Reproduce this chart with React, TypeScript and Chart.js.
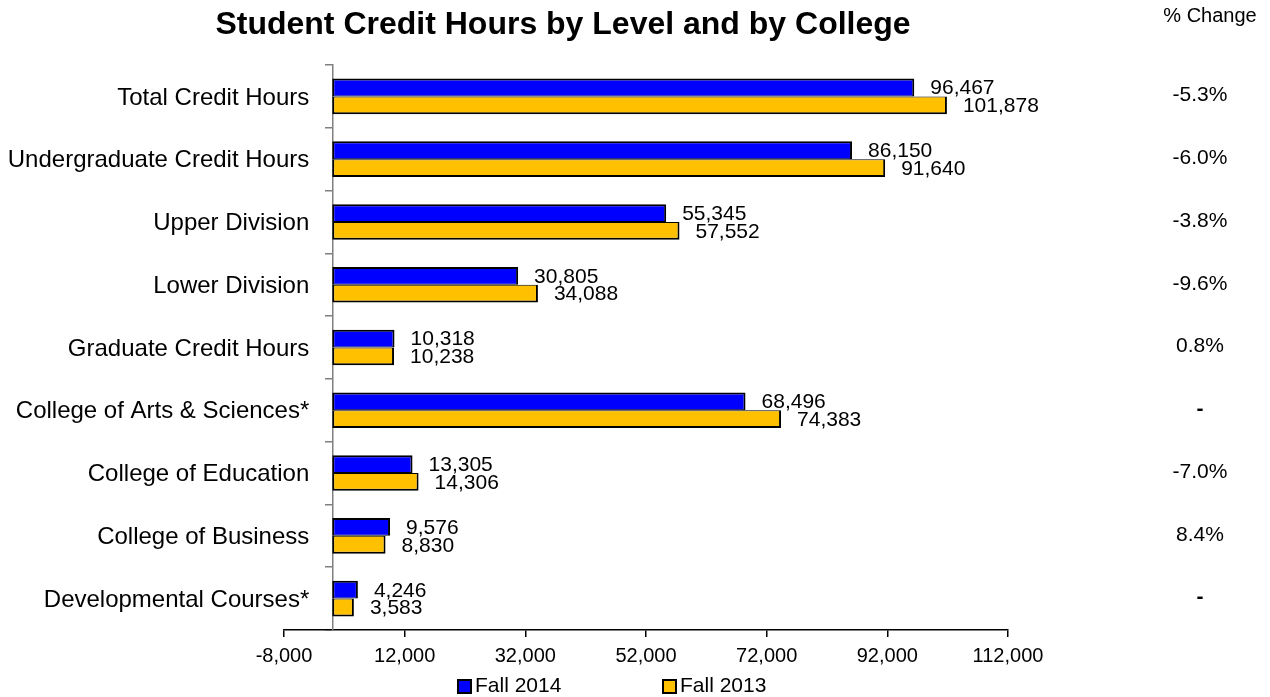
import React, { useEffect, useRef } from "react";
import { Chart, registerables } from "chart.js";

Chart.register(...registerables);

if (typeof document !== "undefined") {
  document.body.style.margin = "0";
  document.body.style.overflow = "hidden";
}

const FONT = "'Liberation Sans', Arial, sans-serif";
const W = 1270;
const H = 697;

const chartTitle = "Student Credit Hours by Level and by College";
const categories = [
  "Total Credit Hours",
  "Undergraduate Credit Hours",
  "Upper Division",
  "Lower Division",
  "Graduate Credit Hours",
  "College of Arts & Sciences*",
  "College of Education",
  "College of Business",
  "Developmental Courses*",
];
const seriesNames = ["Fall 2014", "Fall 2013"];
const fall2014 = [96467, 86150, 55345, 30805, 10318, 68496, 13305, 9576, 4246];
const fall2013 = [101878, 91640, 57552, 34088, 10238, 74383, 14306, 8830, 3583];
const pctHeader = "% Change";
const pctChange = ["-5.3%", "-6.0%", "-3.8%", "-9.6%", "0.8%", "-", "-7.0%", "8.4%", "-"];
const xTicks = [-8000, 12000, 32000, 52000, 72000, 92000, 112000];
const seriesColors = ["#0000FF", "#FFC000"];

const fmt = (v: number) => Number(v).toLocaleString("en-US");

const overlayPlugin = {
  id: "overlay",
  afterDraw(chart: any) {
    const ctx = chart.ctx;
    const xs = chart.scales.x;
    const ys = chart.scales.y;
    ctx.save();
    ctx.fillStyle = "#000";

    // Title
    ctx.font = `bold 32px ${FONT}`;
    ctx.textAlign = "center";
    ctx.textBaseline = "middle";
    ctx.fillText(chartTitle, 563, 25);

    // Category labels
    ctx.font = `24px ${FONT}`;
    ctx.textAlign = "right";
    const x0 = xs.getPixelForValue(0);
    categories.forEach((c, i) => {
      ctx.fillText(c, x0 - 23, ys.getPixelForValue(i) + 1.5);
    });

    // Data labels
    ctx.font = `21px ${FONT}`;
    ctx.textAlign = "left";
    [0, 1].forEach((d) => {
      const meta = chart.getDatasetMeta(d);
      const data = chart.data.datasets[d].data as number[];
      meta.data.forEach((bar: any, i: number) => {
        ctx.fillText(fmt(data[i]), bar.x + 16, bar.y + 1);
      });
    });

    // % Change column
    ctx.textAlign = "center";
    ctx.font = `20px ${FONT}`;
    ctx.fillText(pctHeader, 1210, 16);
    pctChange.forEach((p, i) => {
      ctx.font = p === "-" ? `bold 21px ${FONT}` : `21px ${FONT}`;
      ctx.fillText(p, 1200, ys.getPixelForValue(i) - 1);
    });

    // Legend
    const legendX = [458, 663];
    ctx.font = `21px ${FONT}`;
    ctx.textAlign = "left";
    seriesNames.forEach((n, i) => {
      ctx.fillStyle = seriesColors[i];
      ctx.fillRect(legendX[i], 680, 13, 13);
      ctx.strokeStyle = "#000";
      ctx.lineWidth = 2;
      ctx.strokeRect(legendX[i], 680, 13, 13);
      ctx.fillStyle = "#000";
      ctx.fillText(n, legendX[i] + 17, 686);
    });

    ctx.restore();
  },
};

export default function App() {
  const ref = useRef<HTMLCanvasElement | null>(null);

  useEffect(() => {
    if (!ref.current) return;
    const chart = new Chart(ref.current, {
      type: "bar",
      data: {
        labels: categories,
        datasets: [
          {
            label: seriesNames[0],
            data: fall2014,
            backgroundColor: seriesColors[0],
            borderColor: "#000",
            borderWidth: { top: 2, right: 2, bottom: 1, left: 2 },
            borderSkipped: false,
            categoryPercentage: 0.567,
            barPercentage: 1,
          },
          {
            label: seriesNames[1],
            data: fall2013,
            backgroundColor: seriesColors[1],
            borderColor: "#000",
            borderWidth: { top: 1, right: 2, bottom: 2, left: 2 },
            borderSkipped: false,
            categoryPercentage: 0.567,
            barPercentage: 1,
          },
        ],
      },
      options: {
        indexAxis: "y",
        responsive: false,
        animation: false,
        layout: { padding: { left: 284, right: 262, top: 65, bottom: 22 } },
        plugins: {
          legend: { display: false },
          title: { display: false },
          tooltip: { enabled: false },
        },
        scales: {
          x: {
            type: "linear",
            min: -8000,
            max: 112000,
            afterBuildTicks: (s: any) => {
              s.ticks = xTicks.map((v) => ({ value: v }));
            },
            grid: {
              drawOnChartArea: false,
              drawTicks: true,
              tickLength: 7,
              color: "#000",
              lineWidth: 1.5,
            },
            border: { display: true, color: "#000", width: 1.5 },
            ticks: {
              font: { family: FONT, size: 20 },
              color: "#000",
              padding: 7,
              maxRotation: 0,
              autoSkip: false,
              callback: (v: any) => fmt(Number(v)),
            },
          },
          y: {
            type: "category",
            position: { x: 0 } as any,
            offset: true,
            grid: {
              offset: true,
              drawOnChartArea: false,
              drawTicks: true,
              tickLength: 7,
              color: "#808080",
              lineWidth: 1.5,
            },
            border: { display: true, color: "#808080", width: 1.5 },
            ticks: { display: false },
          },
        },
      } as any,
      plugins: [overlayPlugin],
    });
    return () => chart.destroy();
  }, []);

  return (
    <div style={{ width: W, height: H }}>
      <canvas ref={ref} width={W} height={H} style={{ width: W, height: H, display: "block" }} />
    </div>
  );
}
